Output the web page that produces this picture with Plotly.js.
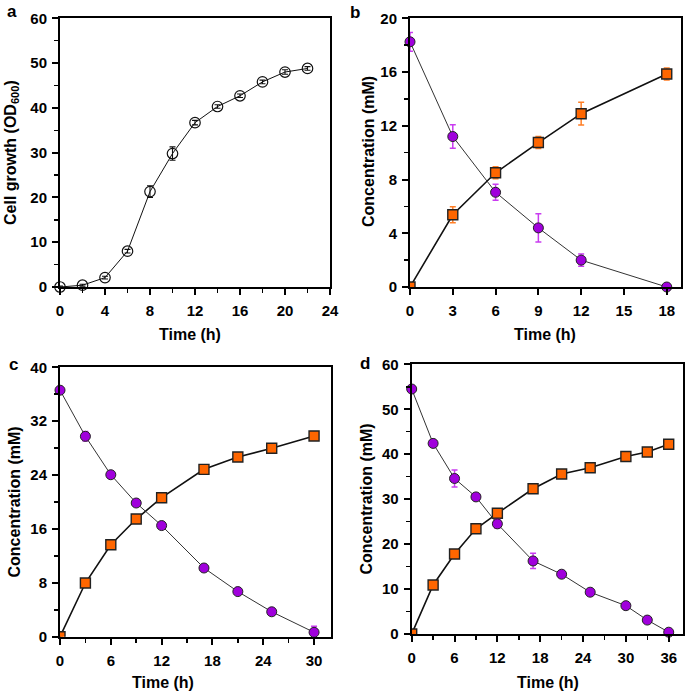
<!DOCTYPE html>
<html>
<head>
<meta charset="utf-8">
<script src="https://cdn.plot.ly/plotly-3.0.1.min.js"></script>
<style>html,body{margin:0;padding:0;background:#fff;}#chart{width:685px;height:694px;}</style>
</head>
<body>
<div id="chart"></div>
<script>
// ---- Data ----
const timeA = [0, 2, 4, 6, 8, 10, 12, 14, 16, 18, 20, 22];
const odA = [0, 0.4, 2.1, 8.0, 21.3, 29.8, 36.7, 40.3, 42.7, 45.8, 48.0, 48.8];
const odAErr = [0.2, 0.2, 0.3, 0.4, 1.3, 1.5, 0.5, 0.4, 0.4, 0.4, 0.5, 0.4];

const timeB = [0, 3, 6, 9, 12, 18];
const substrateB = [18.25, 11.2, 7.05, 4.4, 2.0, 0];
const substrateBErr = [0.7, 0.87, 0.6, 1.05, 0.45, 0];
const productB = [0, 5.38, 8.5, 10.75, 12.9, 15.85];
const productBErr = [0, 0.6, 0.45, 0.45, 0.85, 0.45];

const timeC = [0, 3, 6, 9, 12, 17, 21, 25, 30];
const substrateC = [36.6, 29.75, 24.05, 19.85, 16.5, 10.2, 6.7, 3.7, 0.65];
const substrateCErr = [0.3, 0.7, 0.3, 0.3, 0.3, 0.3, 0.3, 0.3, 0.9];
const productC = [0, 7.97, 13.66, 17.47, 20.64, 24.85, 26.68, 27.97, 29.8];
const productCErr = [0, 0.3, 0.3, 0.3, 0.3, 0.3, 0.3, 0.3, 0.3];

const timeD = [0, 3, 6, 9, 12, 17, 21, 25, 30, 33, 36];
const substrateD = [54.5, 42.4, 34.6, 30.5, 24.5, 16.25, 13.3, 9.3, 6.3, 3.1, 0.4];
const substrateDErr = [0.4, 0.4, 1.9, 0.4, 1.0, 1.7, 0.4, 0.4, 0.4, 0.4, 0.3];
const productD = [0, 10.9, 17.8, 23.4, 26.85, 32.3, 35.6, 37.0, 39.5, 40.5, 42.2];
const productDErr = [0, 0.3, 0.3, 0.3, 0.3, 0.3, 0.3, 0.3, 0.3, 0.3, 0.3];

const panelLetters = ['a', 'b', 'c', 'd'];
const xTitle = 'Time (h)';
const yTitleA = 'Cell growth (OD<sub>600</sub>)';
const yTitleConc = 'Concentration (mM)';

// ---- Styles ----
const ORANGE = '#FF6600';
const ORANGE_ERR = '#FF7F27';
const PURPLE = '#A000DC';
const PURPLE_ERR = '#C93CF0';
const FONT = 'Arial, "Liberation Sans", sans-serif';

function squares(x, y, err, xa, ya) {
  return {
    x: x, y: y, xaxis: xa, yaxis: ya, type: 'scatter', mode: 'lines+markers',
    cliponaxis: true,
    line: {color: '#111', width: 1.6},
    marker: {symbol: 'square', size: 10, color: ORANGE, line: {color: '#222', width: 1.4}},
    error_y: {type: 'data', array: err, visible: true, color: ORANGE_ERR, thickness: 1.5, width: 3},
    showlegend: false
  };
}
function circles(x, y, err, xa, ya) {
  return {
    x: x, y: y, xaxis: xa, yaxis: ya, type: 'scatter', mode: 'lines+markers',
    cliponaxis: false,
    line: {color: '#333', width: 1},
    marker: {symbol: 'circle', size: 10, color: PURPLE, line: {color: '#222', width: 1}},
    error_y: {type: 'data', array: err, visible: true, color: PURPLE_ERR, thickness: 1.5, width: 3},
    showlegend: false
  };
}

const traces = [
  {
    x: timeA, y: odA, xaxis: 'x', yaxis: 'y', type: 'scatter', mode: 'lines+markers',
    cliponaxis: false,
    line: {color: '#111', width: 1},
    marker: {symbol: 'circle-open', size: 10.5, color: '#111', line: {width: 1.2}},
    error_y: {type: 'data', array: odAErr, visible: true, color: '#111', thickness: 1.1, width: 3},
    showlegend: false
  },
  squares(timeB, productB, productBErr, 'x2', 'y2'),
  circles(timeB, substrateB, substrateBErr, 'x2', 'y2'),
  squares(timeC, productC, productCErr, 'x3', 'y3'),
  circles(timeC, substrateC, substrateCErr, 'x3', 'y3'),
  squares(timeD, productD, productDErr, 'x4', 'y4'),
  circles(timeD, substrateD, substrateDErr, 'x4', 'y4')
];

const W = 685, H = 694;
const px = v => v / W;
const py = v => 1 - v / H;

function xAxis(domain, range, dtick, minor, anchor) {
  return {
    domain: domain, range: range, dtick: dtick, tick0: 0, anchor: anchor,
    showline: true, linecolor: '#000', linewidth: 2, mirror: true,
    ticks: 'outside', ticklen: 6, tickwidth: 2, tickcolor: '#000',
    minor: {dtick: minor, tick0: 0, ticks: 'outside', ticklen: 4, tickwidth: 1.5, tickcolor: '#000'},
    showgrid: false, zeroline: false, ticklabelstandoff: 3,
    tickfont: {family: FONT, size: 15, color: '#000', weight: 'bold'}
  };
}
function yAxis(domain, range, dtick, minor, anchor) {
  return {
    domain: domain, range: range, dtick: dtick, tick0: 0, anchor: anchor,
    showline: true, linecolor: '#000', linewidth: 2, mirror: true,
    ticks: 'outside', ticklen: 6, tickwidth: 2, tickcolor: '#000',
    minor: {dtick: minor, tick0: 0, ticks: 'outside', ticklen: 4, tickwidth: 1.5, tickcolor: '#000'},
    showgrid: false, zeroline: false, ticklabelstandoff: 2,
    tickfont: {family: FONT, size: 15, color: '#000', weight: 'bold'}
  };
}

function ann(text, x, y, size, angle) {
  return {
    text: text, xref: 'paper', yref: 'paper', x: px(x), y: py(y),
    xanchor: 'center', yanchor: 'middle', showarrow: false, textangle: angle || 0,
    font: {family: FONT, size: size, color: '#000', weight: 'bold'}
  };
}

const layout = {
  width: W, height: H,
  margin: {l: 0, r: 0, t: 0, b: 0},
  paper_bgcolor: '#fff', plot_bgcolor: '#fff',
  xaxis: xAxis([px(60), px(330)], [0, 24], 4, 2, 'y'),
  yaxis: yAxis([py(287), py(18.3)], [0, 60], 10, 5, 'x'),
  xaxis2: xAxis([px(410), px(681)], [0, 19], 3, 3, 'y2'),
  yaxis2: yAxis([py(287), py(18.3)], [0, 20], 4, 2, 'x2'),
  xaxis3: xAxis([px(60), px(331)], [0, 32], 6, 3, 'y3'),
  yaxis3: yAxis([py(636.7), py(367.3)], [0, 40], 8, 4, 'x3'),
  xaxis4: xAxis([px(411.7), px(683)], [0, 38], 6, 3, 'y4'),
  yaxis4: yAxis([py(634), py(364.3)], [0, 60], 10, 5, 'x4'),
  annotations: [
    ann(panelLetters[0], 12, 12, 17),
    ann(panelLetters[1], 355, 13, 17),
    ann(panelLetters[2], 13, 364, 17),
    ann(panelLetters[3], 365, 363, 17),
    ann(yTitleA, 11, 153, 16, -90),
    ann(yTitleConc, 368, 152, 16, -90),
    ann(yTitleConc, 13.5, 502, 16, -90),
    ann(yTitleConc, 366.5, 499, 16, -90),
    ann(xTitle, 190, 335, 16),
    ann(xTitle, 545, 335, 16),
    ann(xTitle, 163, 682, 16),
    ann(xTitle, 548, 682, 16)
  ]
};

Plotly.newPlot('chart', traces, layout, {displayModeBar: false, staticPlot: true});
</script>
</body>
</html>
